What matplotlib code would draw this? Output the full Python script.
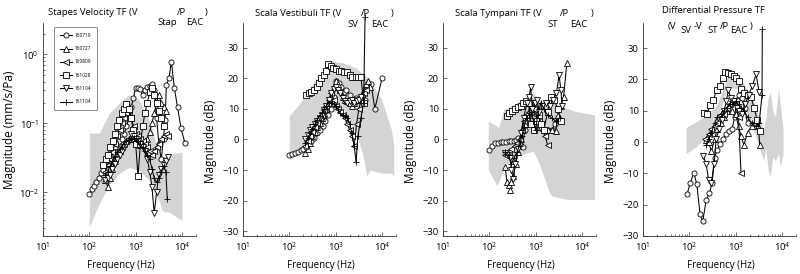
import matplotlib
matplotlib.use('Agg')
import matplotlib.pyplot as plt

plt.rcParams['font.family'] = 'Open Sans'
plt.rcParams['mathtext.fontset'] = 'custom'
plt.rcParams['mathtext.rm'] = 'Open Sans'
plt.rcParams['mathtext.it'] = 'Open Sans:italic'
plt.rcParams['mathtext.bf'] = 'Open Sans:bold'

SPECIMENS = ['160719', '160727', '160809', '161028', '161104', '161104']
MARKERS = ['o', '^', '<', 's', 'v', '+']
SHADE = '#d4d4d4'

# ---------------- Stapes velocity TF (mm/s/Pa) ----------------
stap_band_f = [100, 165, 270, 450, 720, 1170, 1950, 2750, 3200, 3700, 4200, 5100, 5700, 9300, 10000]
stap_band_hi = [0.072, 0.072, 0.14, 0.2, 0.26, 0.22, 0.11, 0.052, 0.04, 0.033, 0.033, 0.035, 0.036, 0.038, 0.038]
stap_band_lo = [0.0032, 0.0069, 0.013, 0.019, 0.023, 0.021, 0.015, 0.009, 0.0078, 0.0055, 0.0052, 0.0052, 0.005, 0.004, 0.004]

stap_f_160719 = [100, 112, 126, 141, 158, 178, 200, 224, 251, 282, 316, 355, 398, 447, 501, 562, 631, 708, 794, 891,
                 1000, 1122, 1259, 1413, 1585, 1778, 1995, 2239, 2512, 2818, 3162, 3548, 3981, 4300, 4600, 5200, 5900,
                 6800, 8000, 9500, 11500]
stap_v_160719 = [0.0095, 0.011, 0.0125, 0.014, 0.016, 0.019, 0.021, 0.025, 0.03, 0.034, 0.04, 0.045, 0.05, 0.055, 0.06,
                 0.07, 0.09, 0.12, 0.17, 0.23, 0.33, 0.33, 0.31, 0.26, 0.3, 0.34, 0.35, 0.37, 0.3, 0.12, 0.05, 0.03,
                 0.06, 0.11, 0.36, 0.45, 0.78, 0.33, 0.17, 0.085, 0.052]
stap_f_160727 = [220, 250, 280, 315, 355, 400, 450, 500, 560, 630, 710, 800, 900, 1000, 1120, 1260, 1410, 1580, 1780,
                 2000, 2240, 2510, 2820, 3160, 3550, 3980, 4470]
stap_v_160727 = [0.015, 0.012, 0.016, 0.022, 0.028, 0.035, 0.04, 0.045, 0.05, 0.055, 0.06, 0.065, 0.06, 0.055, 0.05,
                 0.048, 0.05, 0.055, 0.06, 0.075, 0.1, 0.14, 0.2, 0.26, 0.2, 0.17, 0.15]
stap_f_160809 = [220, 250, 280, 315, 355, 400, 450, 500, 560, 630, 710, 800, 900, 1000, 1120, 1260, 1410, 1580, 1780,
                 2000, 2240, 2510, 2820, 3160, 3550, 3980, 4470, 5010]
stap_v_160809 = [0.02, 0.025, 0.03, 0.038, 0.05, 0.065, 0.08, 0.1, 0.12, 0.14, 0.15, 0.12, 0.09, 0.07, 0.065, 0.06,
                 0.055, 0.05, 0.045, 0.04, 0.035, 0.04, 0.045, 0.05, 0.06, 0.065, 0.07, 0.065]
stap_f_161028 = [200, 224, 251, 282, 316, 355, 398, 447, 501, 562, 631, 708, 794, 891, 1000, 1122, 1259, 1413, 1585,
                 1778, 1995, 2239, 2512, 2818, 3162, 3548, 3981]
stap_v_161028 = [0.025, 0.03, 0.035, 0.045, 0.055, 0.07, 0.09, 0.11, 0.14, 0.16, 0.19, 0.16, 0.12, 0.08, 0.05, 0.017,
                 0.05, 0.09, 0.14, 0.2, 0.28, 0.33, 0.26, 0.2, 0.15, 0.12, 0.09]
stap_f_161104a = [220, 250, 280, 315, 355, 400, 450, 500, 560, 630, 710, 800, 900, 1000, 1120, 1260, 1410, 1580, 1780,
                  2000, 2240, 2510, 2820, 3160, 3550, 3980, 4470, 5010]
stap_v_161104a = [0.015, 0.016, 0.018, 0.022, 0.026, 0.03, 0.035, 0.04, 0.045, 0.05, 0.055, 0.07, 0.065, 0.06, 0.055,
                  0.05, 0.045, 0.04, 0.03, 0.02, 0.012, 0.005, 0.01, 0.018, 0.022, 0.025, 0.028, 0.033]
stap_f_161104b = [220, 250, 280, 315, 355, 400, 450, 500, 560, 630, 710, 800, 900, 1000, 1120, 1260, 1410, 1580, 1780,
                  2000, 2240, 2510, 2820, 3160, 3550, 3980, 4470, 4800]
stap_v_161104b = [0.018, 0.02, 0.024, 0.028, 0.033, 0.038, 0.042, 0.046, 0.05, 0.055, 0.058, 0.06, 0.062, 0.06, 0.055,
                  0.05, 0.045, 0.04, 0.035, 0.03, 0.022, 0.016, 0.014, 0.016, 0.02, 0.024, 0.02, 0.008]

# ---------------- Scala vestibuli TF (dB) ----------------
sv_band_f = [100, 170, 330, 540, 810, 1450, 2800, 4000, 4700, 5500, 9800, 16000, 17800]
sv_band_hi = [7.7, 11.9, 18.4, 22.2, 25.5, 25, 23.3, 21, 20.5, 19.5, 13, 3, -2]
sv_band_lo = [-6.5, -4, 0, 5, 9, 10, 2, -6, -12, -10, -11, -11, -12]

sv_f_160719 = [100, 115, 130, 150, 175, 200, 230, 260, 300, 340, 390, 450, 520, 600, 690, 790, 900, 1000, 1150, 1300,
               1500, 1700, 2000, 2300, 2700, 3100, 3600, 4200, 5000, 5800, 7000, 10000]
sv_v_160719 = [-5.1, -4.8, -4.4, -4, -3.5, -3, -2.4, -1.5, -0.5, 0.5, 2, 3, 4.5, 6, 8, 10, 14, 19, 18.5, 17, 15.5, 16,
               14.5, 13, 13.5, 13, 12.5, 13, 17, 18, 10, 20]
sv_f_160727 = [220, 250, 280, 315, 355, 400, 450, 500, 560, 630, 710, 800, 900, 1000, 1120, 1260, 1410, 1580, 1780,
               2000, 2240, 2510, 2820, 3160, 3550, 3980, 4470, 5010, 5620]
sv_v_160727 = [-4.5, -3, -1, 1, 2.5, 4, 5.5, 7, 8.5, 10, 12, 14, 17, 19, 18, 16, 14, 13, 12.5, 12, 11, 12, 13, 13, 14,
               16, 18, 19, 17]
sv_f_160809 = [220, 250, 280, 315, 355, 400, 450, 500, 560, 630, 710, 800, 900, 1000, 1120, 1260, 1410, 1580, 1780,
               2000, 2240, 2510, 2820, 3160, 3550, 3980, 4470]
sv_v_160809 = [-2, -0.5, 1, 2.5, 4, 5.5, 7, 8, 9.5, 11, 13, 15, 13, 11, 10, 9, 8, 7, 5, 3, 1, -2, 5, 10, 13, 15, 16]
sv_f_161028 = [230, 260, 300, 340, 390, 440, 490, 550, 620, 690, 780, 890, 1000, 1150, 1300, 1500, 1750, 2000, 2300,
               2700, 3100, 3500, 4000]
sv_v_161028 = [14.6, 15, 15.6, 16.2, 17, 18.4, 20, 21, 22.5, 24.7, 24, 23.3, 23, 22.5, 22.3, 22, 21.9, 21, 20.5, 20.4,
               20.4, 20.4, 12]
sv_f_161104a = [220, 250, 280, 315, 355, 400, 450, 500, 560, 630, 710, 800, 900, 1000, 1120, 1260, 1410, 1580, 1780,
                2000, 2240, 2510, 2820, 3160, 3550]
sv_v_161104a = [0, 1.5, 3, 4, 5, 6, 7, 8, 9.5, 11, 13, 15, 16.5, 17, 16, 15, 13.5, 12.5, 12, 12.5, 13, 12, 12.5, 13, 14]
sv_f_161104b = [220, 250, 280, 315, 355, 400, 450, 500, 560, 630, 710, 800, 900, 1000, 1120, 1260, 1410, 1580, 1780,
                2000, 2240, 2510, 2750, 3000, 3500, 4000, 4300]
sv_v_161104b = [-1, 0.5, 2, 3.5, 5, 6.5, 7.5, 8.5, 10, 11, 12, 12, 11.5, 11, 10, 8.5, 8, 7.5, 7, 5, 2, -2, -7.5, 1, 7,
                12, 40]

# ---------------- Scala tympani TF (dB) ----------------
st_band_f = [95, 145, 158, 205, 240, 400, 780, 900, 1200, 2000, 2300, 5000, 6900, 18600]
st_band_hi = [6, 4.4, 3.8, 9.8, 10.3, 12, 14, 15, 13, 12, 12, 10, 9.2, 8]
st_band_lo = [-10, -15, -14, -9.5, -8, -5.5, -4, -4, -8, -17.5, -18.5, -19.6, -19.6, -19.6]

st_f_160719 = [100, 115, 130, 150, 175, 200, 230, 260, 300, 340, 380, 420, 470, 520, 580, 650, 720, 800, 900, 1000,
               1150, 1300, 1500, 1800, 2200, 2600, 3000, 3400]
st_v_160719 = [-3.3, -2, -1.2, -1, -0.8, -0.8, -0.7, -0.6, -0.5, -0.6, -0.3, 0.5, -2, -2.5, 3, 7, 8, 10, 11, 9, 5, 4,
               3, 3, 3, 5, 7, 6]
st_f_160727 = [220, 240, 260, 280, 300, 330, 370, 420, 480, 540, 600, 700, 800, 900, 1000, 1100, 1300, 1500, 1800,
               2200, 2700, 3000, 3500, 4000, 4700]
st_v_160727 = [-9, -14, -15, -16.5, -14, -12, -8, -4, 0, 3, 5, 8, 10, 11, 9, 6, 4, 3, 3, 3, 2.7, 8, 11, 14, 25]
st_f_160809 = [220, 240, 270, 300, 350, 400, 450, 500, 560, 630, 700, 800, 900, 1000, 1200, 1400, 1600, 1800]
st_v_160809 = [-5, -4.5, -4, -3, -2, -1, 0, 3, 6, 8, 9, 11, 10, 8, 6, 3, 1, -1.7]
st_f_161028 = [235, 270, 310, 360, 410, 470, 540, 620, 700, 800, 900, 1000, 1150, 1300, 1500, 1800, 2100, 2500, 3000,
               3500]
st_v_161028 = [7.5, 8.5, 9.3, 10, 10.5, 11, 12, 12.5, 12, 5, 3, 6, 8, 5, 3, 9, 14, 13, 10, 6]
st_f_161104a = [220, 250, 280, 300, 330, 360, 420, 480, 550, 650, 720, 780, 850, 950, 1050, 1200, 1400, 1700, 2000,
                2400, 2800, 3200, 3500, 3700]
st_v_161104a = [-4.4, -5, -6, -10, -13, -8, -3, 2, 7, 12, 14, 17, 10, 12, 13, 9, 11, 12, 11, 13, 15, 21, 16, 11]
st_f_161104b = [220, 260, 300, 340, 400, 450, 500, 560, 630, 700, 800, 900, 1000, 1100, 1300, 1500, 1800, 2200, 2700,
                3300]
st_v_161104b = [-4, -5, -8, -6, -4, -2, 1, 4, 7, 8, 9, 6, 3, 8, 12, 10, 8, 7, 6, 7]

# ---------------- Differential pressure TF (dB) ----------------
dp_band_f = [85, 138, 230, 370, 520, 660, 1070, 1380, 2100, 2700, 3400, 4000, 4500, 5000, 5600, 6300, 7200, 8400,
             9200, 10500]
dp_band_hi = [4.6, 6.4, 8.5, 11.2, 16.5, 20.8, 20.3, 19.2, 15.5, 11.2, 6.9, 4, 8, 14, 16, 10, 8, 17, 12, 4]
dp_band_lo = [-3.7, -1.6, 1.6, 6.4, 12.3, 17.6, 17, 14, 5.9, 2, -2.7, -5.8, -2, -9, -11, -4.8, -6, -3.7, -8, -4]

dp_f_160719 = [90, 105, 125, 145, 170, 195, 230, 270, 310, 350, 400, 460, 530, 620, 720, 830, 950, 1050, 1200, 1350,
               1550, 1800]
dp_v_160719 = [-16.5, -13, -9.8, -13.5, -23, -25.3, -18.6, -16.4, -13, -5, -2.5, -0.5, 1, 2.5, 3.5, 4, 8, 13.5, 15,
               14, 11, 6]
dp_f_160727 = [230, 260, 300, 350, 400, 470, 550, 650, 750, 850, 1000, 1150, 1300, 1500, 1800, 2200, 2700, 3100, 3300]
dp_v_160727 = [0.5, 0, -3, 1, 4, 6, 8, 10, 11, 10, 9, 5, 2, -1, 3, 5, 7, 5, -1]
dp_f_160809 = [220, 260, 300, 350, 400, 470, 550, 650, 750, 850, 1000, 1150, 1300]
dp_v_160809 = [1, 2.5, 4, 5, 6, 8, 9, 11, 12, 13, 12, 8, -9.8]
dp_f_161028 = [210, 240, 280, 330, 390, 450, 520, 590, 680, 780, 900, 1000, 1150, 1300, 1500, 1800, 2100, 2500, 2900,
               3300]
dp_v_161028 = [9.2, 9, 11.7, 13.5, 16.7, 18, 20.5, 22.2, 22, 21.8, 21, 20.5, 19.5, 17, 15.5, 15, 14.5, 11, 7, 3.5]
dp_f_161104a = [200, 230, 260, 300, 340, 380, 430, 500, 560, 630, 690, 800, 900, 1050, 1200, 1400, 1600, 1900, 2300,
                2750, 3200]
dp_v_161104a = [-4.5, -7, -12, -13, -7, 1, 4, 7, 10, 13, 16.5, 14, 13, 11, 10, 9, 12, 15, 18, 21.6, 16]
dp_f_161104b = [230, 260, 300, 350, 400, 470, 550, 650, 750, 850, 1000, 1150, 1300, 1500, 1800, 2200, 2700, 3200,
                3700, 3750]
dp_v_161104b = [-1, 1, 3, 6, 8, 9, 10, 11, 12, 12, 13, 12, 11, 10, 8, 6, 5, 6, 15, 36]

W, H = 800, 274


def pxAxes(left, top, width, height):
    return [left / W, 1 - (top + height) / H, width / W, height / H]


def drawPanel(ax, bandF, bandLo, bandHi, curves, ylim, ylabel, ylabelPos, logY=False):
    ax.fill_between(bandF, bandLo, bandHi, color=SHADE, lw=0, zorder=1)
    for (f, v), mk, lab in zip(curves, MARKERS, SPECIMENS):
        ax.plot(f, v, color='k', lw=0.75, marker=mk, ms=3.7, mfc='white', mec='k', mew=0.6,
                label=lab, zorder=3, clip_on=False)
    ax.set_xscale('log')
    if logY:
        ax.set_yscale('log')
    else:
        ax.set_yticks([-30, -20, -10, 0, 10, 20, 30])
    ax.set_xlim(10, 2e4)
    ax.set_ylim(*ylim)
    ax.set_xticks([10, 100, 1000, 10000])
    for s in ['top', 'right']:
        ax.spines[s].set_visible(False)
    for s in ['left', 'bottom']:
        ax.spines[s].set_linewidth(0.6)
        ax.spines[s].set_color('#333333')
    ax.tick_params(which='both', direction='in', labelsize=6.8, width=0.5, color='#333333', pad=3)
    ax.tick_params(which='major', length=3)
    ax.tick_params(which='minor', length=1.6)
    ax.set_xlabel('Frequency (Hz)', fontsize=7)
    ax.xaxis.set_label_coords(0.51, -0.115)
    ax.set_ylabel(ylabel, fontsize=8.5)
    ax.yaxis.set_label_coords(*ylabelPos)


fig = plt.figure(figsize=(8, 2.74), dpi=100)

ax1 = fig.add_axes(pxAxes(43, 23, 153, 213))
drawPanel(ax1, stap_band_f, stap_band_lo, stap_band_hi,
          [(stap_f_160719, stap_v_160719), (stap_f_160727, stap_v_160727), (stap_f_160809, stap_v_160809),
           (stap_f_161028, stap_v_161028), (stap_f_161104a, stap_v_161104a), (stap_f_161104b, stap_v_161104b)],
          (2.33e-3, 2.84), 'Magnitude (mm/s/Pa)', (-0.176, 0.5), logY=True)
leg = ax1.legend(loc='upper left', bbox_to_anchor=(0.075, 0.98), fontsize=3.4, frameon=True, fancybox=False,
                 edgecolor='#333333', borderpad=1.2, labelspacing=1.75, handlelength=2.6, handletextpad=0.5,
                 borderaxespad=0)
leg.get_frame().set_linewidth(0.5)

ax2 = fig.add_axes(pxAxes(243, 23, 153, 213))
drawPanel(ax2, sv_band_f, sv_band_lo, sv_band_hi,
          [(sv_f_160719, sv_v_160719), (sv_f_160727, sv_v_160727), (sv_f_160809, sv_v_160809),
           (sv_f_161028, sv_v_161028), (sv_f_161104a, sv_v_161104a), (sv_f_161104b, sv_v_161104b)],
          (-31.5, 38), 'Magnitude (dB)', (-0.17, 0.446))

ax3 = fig.add_axes(pxAxes(443, 23, 153, 213))
drawPanel(ax3, st_band_f, st_band_lo, st_band_hi,
          [(st_f_160719, st_v_160719), (st_f_160727, st_v_160727), (st_f_160809, st_v_160809),
           (st_f_161028, st_v_161028), (st_f_161104a, st_v_161104a), (st_f_161104b, st_v_161104b)],
          (-31.5, 38), 'Magnitude (dB)', (-0.17, 0.446))

ax4 = fig.add_axes(pxAxes(643, 23, 153, 213))
drawPanel(ax4, dp_band_f, dp_band_lo, dp_band_hi,
          [(dp_f_160719, dp_v_160719), (dp_f_160727, dp_v_160727), (dp_f_160809, dp_v_160809),
           (dp_f_161028, dp_v_161028), (dp_f_161104a, dp_v_161104a), (dp_f_161104b, dp_v_161104b)],
          (-30, 38), 'Magnitude (dB)', (-0.17, 0.443))

# titles, subscripts dropped below the line as in the original export (baseline y in px)
titlePieces = [
    ('Stapes Velocity TF (V', 48, 15), ('Stap', 157, 25), ('/P', 177, 15), ('EAC', 186, 25), (')', 205, 15),
    ('Scala Vestibuli TF (V', 255, 16), ('SV', 347, 27), ('/P', 361, 16), ('EAC', 371, 27), (')', 391, 16),
    ('Scala Tympani TF (V', 455, 16), ('ST', 547, 27), ('/P', 560, 16), ('EAC', 570, 27), (')', 591, 16),
    ('Differential Pressure TF', 662, 13), ('(V', 668, 29), ('SV', 680, 33), ('-V', 694, 29), ('ST', 707, 33),
    ('/P', 720, 29), ('EAC', 730, 33), (')', 750, 29),
]
for txt, x, y in titlePieces:
    fig.text(x / W, 1 - y / H, txt, ha='left', va='baseline', fontsize=6.8)

fig.savefig('out.png', dpi=100)
